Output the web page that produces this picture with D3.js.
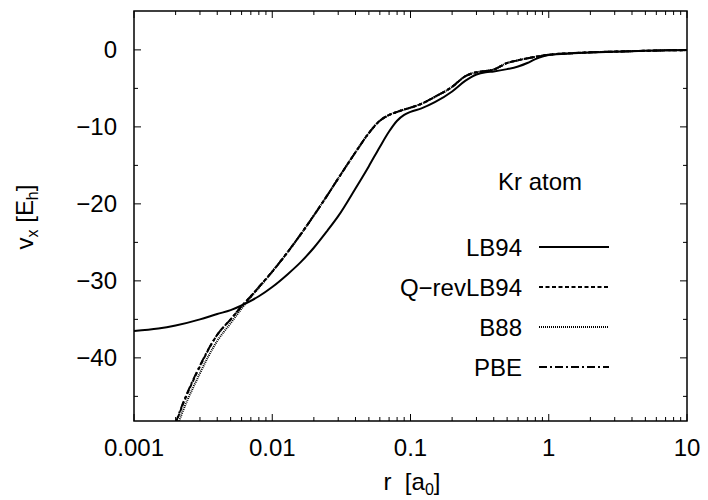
<!DOCTYPE html>
<html><head><meta charset="utf-8">
<script src="https://cdn.jsdelivr.net/npm/d3@7"></script>
<style>
body{margin:0;background:#fff;}
svg text{font-family:"Liberation Sans",Arial,sans-serif;fill:#000;}
</style></head>
<body><svg id="c" width="708" height="500"></svg>
<script>
// ---- data ----
const rGrid = [0.001,0.0015,0.002,0.003,0.004,0.005,0.006,0.007,0.008,0.01,0.013,0.016,0.02,0.025,0.03,0.04,0.05,0.06,0.07,0.08,0.09,0.1,0.12,0.15,0.2,0.25,0.3,0.35,0.4,0.5,0.6,0.7,0.8,0.9,1,1.5,2,3,5,7,10];
const lb94 = [-36.5,-36.2,-35.8,-35.0,-34.3,-33.8,-33.2,-32.6,-32.0,-30.8,-29.1,-27.6,-25.7,-23.5,-21.6,-18.0,-15.1,-12.6,-10.6,-9.2,-8.45,-8.05,-7.6,-6.8,-5.4,-4.0,-3.2,-2.9,-2.8,-2.5,-2.15,-1.7,-1.2,-0.85,-0.65,-0.45,-0.35,-0.25,-0.12,-0.06,-0.03];
const qrevlb94 = [-75,-56,-48.6,-41.1,-37.0,-35.0,-33.3,-32.0,-30.8,-28.8,-26.2,-24.0,-21.5,-18.9,-16.7,-13.3,-10.8,-9.2,-8.45,-8.05,-7.75,-7.5,-7.0,-6.1,-4.8,-3.4,-2.9,-2.75,-2.55,-1.7,-1.35,-1.1,-0.9,-0.75,-0.62,-0.42,-0.32,-0.22,-0.12,-0.06,-0.03];
const b88 = [-78,-58,-49.6,-42.0,-37.8,-35.5,-33.6,-32.1,-30.9,-28.8,-26.2,-24.0,-21.5,-18.9,-16.7,-13.3,-10.8,-9.2,-8.45,-8.05,-7.75,-7.5,-7.0,-6.1,-4.8,-3.4,-2.9,-2.75,-2.55,-1.7,-1.35,-1.1,-0.9,-0.75,-0.62,-0.42,-0.32,-0.22,-0.12,-0.06,-0.03];
const pbe = [-75,-56,-48.5,-41.0,-37.0,-35.0,-33.3,-32.0,-30.8,-28.8,-26.2,-24.0,-21.5,-18.9,-16.7,-13.3,-10.8,-9.2,-8.45,-8.05,-7.75,-7.5,-7.0,-6.1,-4.8,-3.4,-2.9,-2.75,-2.55,-1.7,-1.35,-1.1,-0.9,-0.75,-0.62,-0.42,-0.32,-0.22,-0.12,-0.06,-0.03];
const seriesNames = ["LB94","Q\u2212revLB94","B88","PBE"];
const xTickValues = [0.001,0.01,0.1,1,10];
const xTickLabels = ["0.001","0.01","0.1","1","10"];
const yTickValues = [0,-10,-20,-30,-40];
const yTickLabels = ["0","\u221210","\u221220","\u221230","\u221240"];
const title = "Kr atom";

// ---- layout ----
const L=134, R=687, T=11, B=421;
const svg = d3.select("#c");
const x = d3.scaleLog().domain([0.001,10]).range([L,R]);
const y = d3.scaleLinear().domain([-48.2,5.05]).range([B,T]);

svg.append("defs").append("clipPath").attr("id","clip")
  .append("rect").attr("x",L).attr("y",T).attr("width",R-L).attr("height",B-T);

const g = svg.append("g");
const xMinor=[];
for(let e=-3;e<1;e++) for(let k=2;k<=9;k++) xMinor.push(k*Math.pow(10,e));
const yMinor=[-45,-35,-25,-15,-5];
function tick(x1,y1,x2,y2){
  g.append("line").attr("x1",x1).attr("x2",x2).attr("y1",y1).attr("y2",y2).attr("stroke","#000");
}
xTickValues.forEach(v=>{ tick(x(v),B,x(v),B-7); tick(x(v),T,x(v),T+7); });
xMinor.forEach(v=>{ tick(x(v),B,x(v),B-4); tick(x(v),T,x(v),T+4); });
yTickValues.forEach(v=>{ tick(L,y(v),L+7,y(v)); tick(R,y(v),R-7,y(v)); });
yMinor.forEach(v=>{ tick(L,y(v),L+4,y(v)); tick(R,y(v),R-4,y(v)); });

// tick labels
xTickValues.forEach((v,i)=>{
  svg.append("text").attr("x",x(v)).attr("y",456).attr("text-anchor","middle")
    .attr("font-size",24).text(xTickLabels[i]);
});
yTickValues.forEach((v,i)=>{
  svg.append("text").attr("x",117).attr("y",y(v)+8.5).attr("text-anchor","end")
    .attr("font-size",24).text(yTickLabels[i]);
});

// axis labels
const xl = svg.append("text").attr("x",412).attr("y",490).attr("text-anchor","middle").attr("font-size",24);
xl.append("tspan").text("r\u00a0\u00a0[a");
xl.append("tspan").attr("font-size",16).attr("dy",5).text("0");
xl.append("tspan").attr("dy",-5).text("]");

const yl = svg.append("text").attr("transform","translate(33,217) rotate(-90)").attr("text-anchor","middle").attr("font-size",24);
yl.append("tspan").text("v");
yl.append("tspan").attr("font-size",16).attr("dy",5).text("x");
yl.append("tspan").attr("dy",-5).text("\u00a0[E");
yl.append("tspan").attr("font-size",16).attr("dy",5).text("h");
yl.append("tspan").attr("dy",-5).text("]");

// curves
const allSeries=[lb94,qrevlb94,b88,pbe];
const dashes=[null,"4,2.5","1,1","8,3,2,3"];
const line = d3.line().x(d=>x(d[0])).y(d=>y(d[1])).curve(d3.curveMonotoneX);
const cg = svg.append("g").attr("clip-path","url(#clip)");
[0,2,1,3].forEach(i=>{
  const data = rGrid.map((r,j)=>[r,allSeries[i][j]]);
  cg.append("path").attr("d",line(data)).attr("fill","none").attr("stroke","#000")
    .attr("stroke-width",2).attr("stroke-dasharray",dashes[i]);
});

// legend
svg.append("text").attr("x",540).attr("y",190).attr("text-anchor","middle").attr("font-size",24).text(title);
seriesNames.forEach((n,i)=>{
  const yy = 247 + i*40;
  svg.append("text").attr("x",522).attr("y",yy+8.5).attr("text-anchor","end").attr("font-size",24).text(n);
  svg.append("line").attr("x1",539).attr("x2",609).attr("y1",yy).attr("y2",yy)
    .attr("stroke","#000").attr("stroke-width",2).attr("stroke-dasharray",dashes[i]);
});

// frame
svg.append("rect").attr("x",L).attr("y",T).attr("width",R-L).attr("height",B-T)
  .attr("fill","none").attr("stroke","#000").attr("stroke-width",1.5);
</script></body></html>
